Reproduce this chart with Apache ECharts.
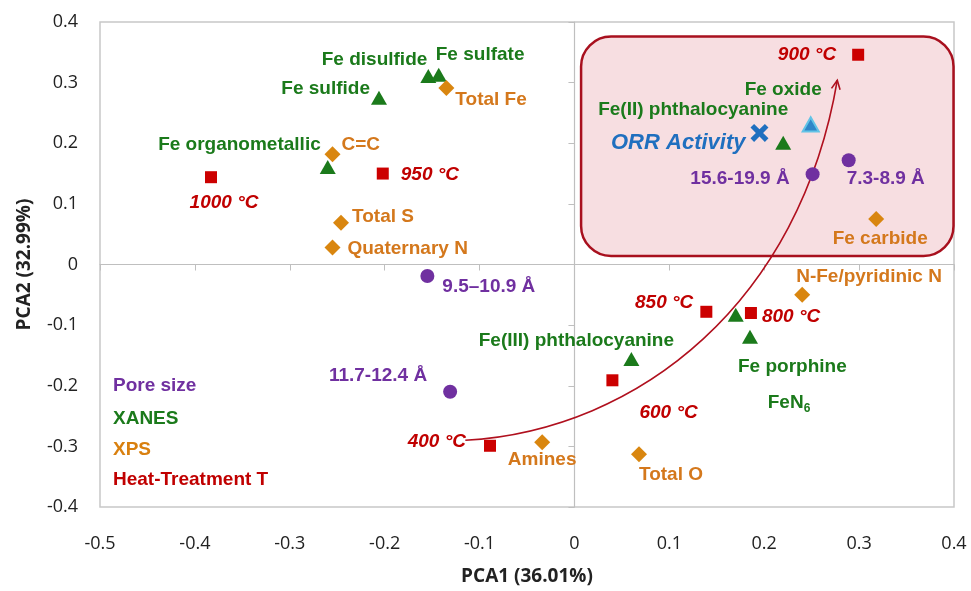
<!DOCTYPE html>
<html>
<head>
<meta charset="utf-8">
<script src="https://cdn.jsdelivr.net/npm/echarts@6/dist/echarts.min.js"></script>
<style>
html, body { margin: 0; padding: 0; background: #fff; }
#main { width: 971px; height: 591px; }
</style>
</head>
<body>
<div id="main"></div>
<script>
var myChart = echarts.init(document.getElementById('main'));

// 孔径
var poreNames = ['9.5–10.9 Å', '11.7-12.4 Å', '15.6-19.9 Å', '7.3-8.9 Å'];
var porePoints = [[-0.155, -0.019], [-0.131, -0.210], [0.251, 0.149], [0.289, 0.172]];

// XANES
var xanesNames = ['Fe disulfide', 'Fe sulfate', 'Fe sulfide', 'Fe organometallic',
    'Fe(II) phthalocyanine', 'Fe oxide', 'Fe(III) phthalocyanine', 'FeN6', 'Fe porphine'];
var xanesPoints = [[-0.154, 0.311], [-0.143, 0.313], [-0.206, 0.275], [-0.260, 0.161],
    [0.220, 0.201], [0.249, 0.231], [0.060, -0.156], [0.170, -0.083], [0.185, -0.119]];

// XPS
var xpsNames = ['Total Fe', 'C=C', 'Total S', 'Quaternary N', 'Fe carbide',
    'N-Fe/pyridinic N', 'Amines', 'Total O'];
var xpsPoints = [[-0.135, 0.291], [-0.255, 0.182], [-0.246, 0.069], [-0.255, 0.028],
    [0.318, 0.075], [0.240, -0.050], [-0.034, -0.293], [0.068, -0.313]];

// 热处理温度
var heatNames = ['1000 °C', '950 °C', '900 °C', '850 °C', '800 °C', '600 °C', '400 °C'];
var heatPoints = [[-0.383, 0.144], [-0.202, 0.150], [0.299, 0.346], [0.139, -0.078],
    [0.186, -0.080], [0.040, -0.191], [-0.089, -0.299]];

var orrName = 'ORR Activity';
var orrPoint = [0.195, 0.217];

var groupNames = ['Pore size', 'XANES', 'XPS', 'Heat-Treatment T'];

// 高活性区域 和 温度趋势曲线 (数据坐标)
var activityBox = [[0.007, 0.376], [0.3995, 0.014]];
var trendCurve = [[-0.115, -0.290], [0.070, -0.273], [0.238, -0.059], [0.277, 0.304]];

// 标签摆放: [对齐, dx, dy]
var labelPlace = {
    '9.5–10.9 Å': ['left', 15, 11],
    '11.7-12.4 Å': ['right', -23, -16],
    '15.6-19.9 Å': ['right', -23, 5],
    '7.3-8.9 Å': ['left', -2, 19],
    'Fe disulfide': ['right', -1, -16],
    'Fe sulfate': ['left', -3, -20],
    'Fe sulfide': ['right', -9, -9],
    'Fe organometallic': ['right', -7, -22],
    'Fe(II) phthalocyanine': ['right', 5, -33],
    'Fe oxide': ['right', 11, -35],
    'Fe(III) phthalocyanine': ['center', -55, -18],
    'FeN6': ['left', 32, 88],
    'Fe porphine': ['left', -12, 30],
    'Total Fe': ['left', 9, 12],
    'C=C': ['left', 9, -9],
    'Total S': ['left', 11, -6],
    'Quaternary N': ['left', 15, 1],
    'Fe carbide': ['center', 4, 20],
    'N-Fe/pyridinic N': ['left', -6, -18],
    'Amines': ['center', 0, 18],
    'Total O': ['left', 0, 21],
    '1000 °C': ['center', 13, 26],
    '950 °C': ['left', 18, 1],
    '900 °C': ['right', -22, 0],
    '850 °C': ['right', -13, -9],
    '800 °C': ['left', 11, 4],
    '600 °C': ['left', 27, 32],
    '400 °C': ['right', -24, -4],
    'ORR Activity': ['right', -14, 10]
};

var colorOverride = {
    'Fe oxide': { color: '#2f86c8', borderColor: '#62c3e6', borderWidth: 2 }
};

var labelFont = 'Liberation Sans, Arial, sans-serif';
var axisFont = 'Open Sans, Noto Sans, sans-serif';

function makeSeries(names, points, symbol, size, color, textColor, italic, fontSize) {
    return {
        type: 'scatter',
        symbol: symbol,
        symbolSize: size,
        itemStyle: { color: color, opacity: 1 },
        z: 3,
        silent: true,
        data: names.map(function (n, i) {
            var lp = labelPlace[n];
            return {
                name: n,
                value: points[i],
                label: { align: lp[0], offset: [lp[1], lp[2]] },
                itemStyle: colorOverride[n]
            };
        }),
        label: {
            show: true,
            position: 'inside',
            verticalAlign: 'middle',
            color: textColor,
            fontWeight: 'bold',
            fontStyle: italic ? 'italic' : 'normal',
            fontSize: fontSize || 19,
            fontFamily: labelFont,
            formatter: function (p) {
                return p.name === 'FeN6' ? '{n|FeN}{s|6}' : p.name;
            },
            rich: {
                n: { color: textColor, fontWeight: 'bold', fontSize: 19, fontFamily: labelFont },
                s: { color: textColor, fontWeight: 'bold', fontSize: 12, fontFamily: labelFont, padding: [12, 0, 0, 0] }
            }
        }
    };
}

function renderBox(params, api) {
    var p0 = api.coord(activityBox[0]);
    var p1 = api.coord(activityBox[1]);
    return {
        type: 'rect',
        shape: { x: p0[0], y: p0[1], width: p1[0] - p0[0], height: p1[1] - p0[1], r: 30 },
        style: { fill: 'rgba(200,20,40,0.14)', stroke: '#a8101e', lineWidth: 2.5 }
    };
}

function renderArrow(params, api) {
    var pts = trendCurve.map(function (p) { return api.coord(p); });
    var end = pts[3], c2 = pts[2];
    var ang = Math.atan2(end[1] - c2[1], end[0] - c2[0]);
    var len = 10, spread = 0.45;
    var a1 = [end[0] - len * Math.cos(ang - spread), end[1] - len * Math.sin(ang - spread)];
    var a2 = [end[0] - len * Math.cos(ang + spread), end[1] - len * Math.sin(ang + spread)];
    return {
        type: 'group',
        children: [{
            type: 'bezierCurve',
            shape: {
                x1: pts[0][0], y1: pts[0][1],
                cpx1: pts[1][0], cpy1: pts[1][1],
                cpx2: pts[2][0], cpy2: pts[2][1],
                x2: end[0], y2: end[1]
            },
            style: { stroke: '#b0101e', lineWidth: 1.6, fill: null }
        }, {
            type: 'polyline',
            shape: { points: [a1, end, a2] },
            style: { stroke: '#b0101e', lineWidth: 1.6, fill: null }
        }]
    };
}

var groupColors = ['#7030a0', '#1b7a1b', '#d9800f', '#c00000'];
var groupTops = [376, 409, 440, 470];

myChart.setOption({
    animation: false,
    grid: { show: true, borderColor: '#c8c8c8', borderWidth: 1.5, left: 100, right: 17, top: 22, bottom: 84 },
    xAxis: [{
        type: 'value', min: -0.5, max: 0.4, interval: 0.1, position: 'bottom',
        axisLine: { show: false, onZero: false },
        axisTick: { show: false },
        splitLine: { show: false },
        axisLabel: { margin: 28, fontSize: 18, color: '#222', fontFamily: axisFont },
        name: 'PCA1 (36.01%)', nameLocation: 'middle', nameGap: 60,
        nameTextStyle: { fontWeight: 'bold', fontSize: 19, color: '#222', fontFamily: axisFont }
    }, {
        type: 'value', min: -0.5, max: 0.4, interval: 0.1, position: 'top',
        axisLine: { show: true, onZero: true, onZeroAxisIndex: 0, lineStyle: { color: '#bfbfbf', width: 1.2 } },
        axisTick: { show: true, inside: true, length: 6, lineStyle: { color: '#bfbfbf' } },
        axisLabel: { show: false },
        splitLine: { show: false }
    }],
    yAxis: [{
        type: 'value', min: -0.4, max: 0.4, interval: 0.1, position: 'left',
        axisLine: { show: false, onZero: false },
        axisTick: { show: false },
        splitLine: { show: false },
        axisLabel: { margin: 22, fontSize: 18, color: '#222', fontFamily: axisFont },
        name: 'PCA2 (32.99%)', nameLocation: 'middle', nameGap: 66,
        nameTextStyle: { fontWeight: 'bold', fontSize: 19, color: '#222', fontFamily: axisFont }
    }, {
        type: 'value', min: -0.4, max: 0.4, interval: 0.1, position: 'right',
        axisLine: { show: true, onZero: true, onZeroAxisIndex: 0, lineStyle: { color: '#bfbfbf', width: 1.2 } },
        axisTick: { show: true, inside: true, length: 6, lineStyle: { color: '#bfbfbf' } },
        axisLabel: { show: false },
        splitLine: { show: false }
    }],
    graphic: groupNames.map(function (g, i) {
        return {
            type: 'text', left: 113, top: groupTops[i],
            style: { text: g, fill: groupColors[i], font: 'bold 19px ' + labelFont }
        };
    }),
    series: [
        { type: 'custom', renderItem: renderBox, data: [[0, 0]], z: 1, silent: true },
        { type: 'custom', renderItem: renderArrow, data: [[0, 0]], z: 2, silent: true },
        makeSeries(poreNames, porePoints, 'circle', 14, '#7030a0', '#7030a0', false),
        makeSeries(xanesNames, xanesPoints, 'triangle', [16, 14], '#1b7a1b', '#1b7a1b', false),
        makeSeries(xpsNames, xpsPoints, 'diamond', [16, 16], '#d9860f', '#d4781c', false),
        makeSeries(heatNames, heatPoints, 'rect', 12, '#cc0000', '#c00000', true),
        makeSeries([orrName], [orrPoint], 'path://M0,2 L2,0 L5,3 L8,0 L10,2 L7,5 L10,8 L8,10 L5,7 L2,10 L0,8 L3,5 Z',
            18, '#1f6fbf', '#1f6fbf', true, 22)
    ]
});
</script>
</body>
</html>
